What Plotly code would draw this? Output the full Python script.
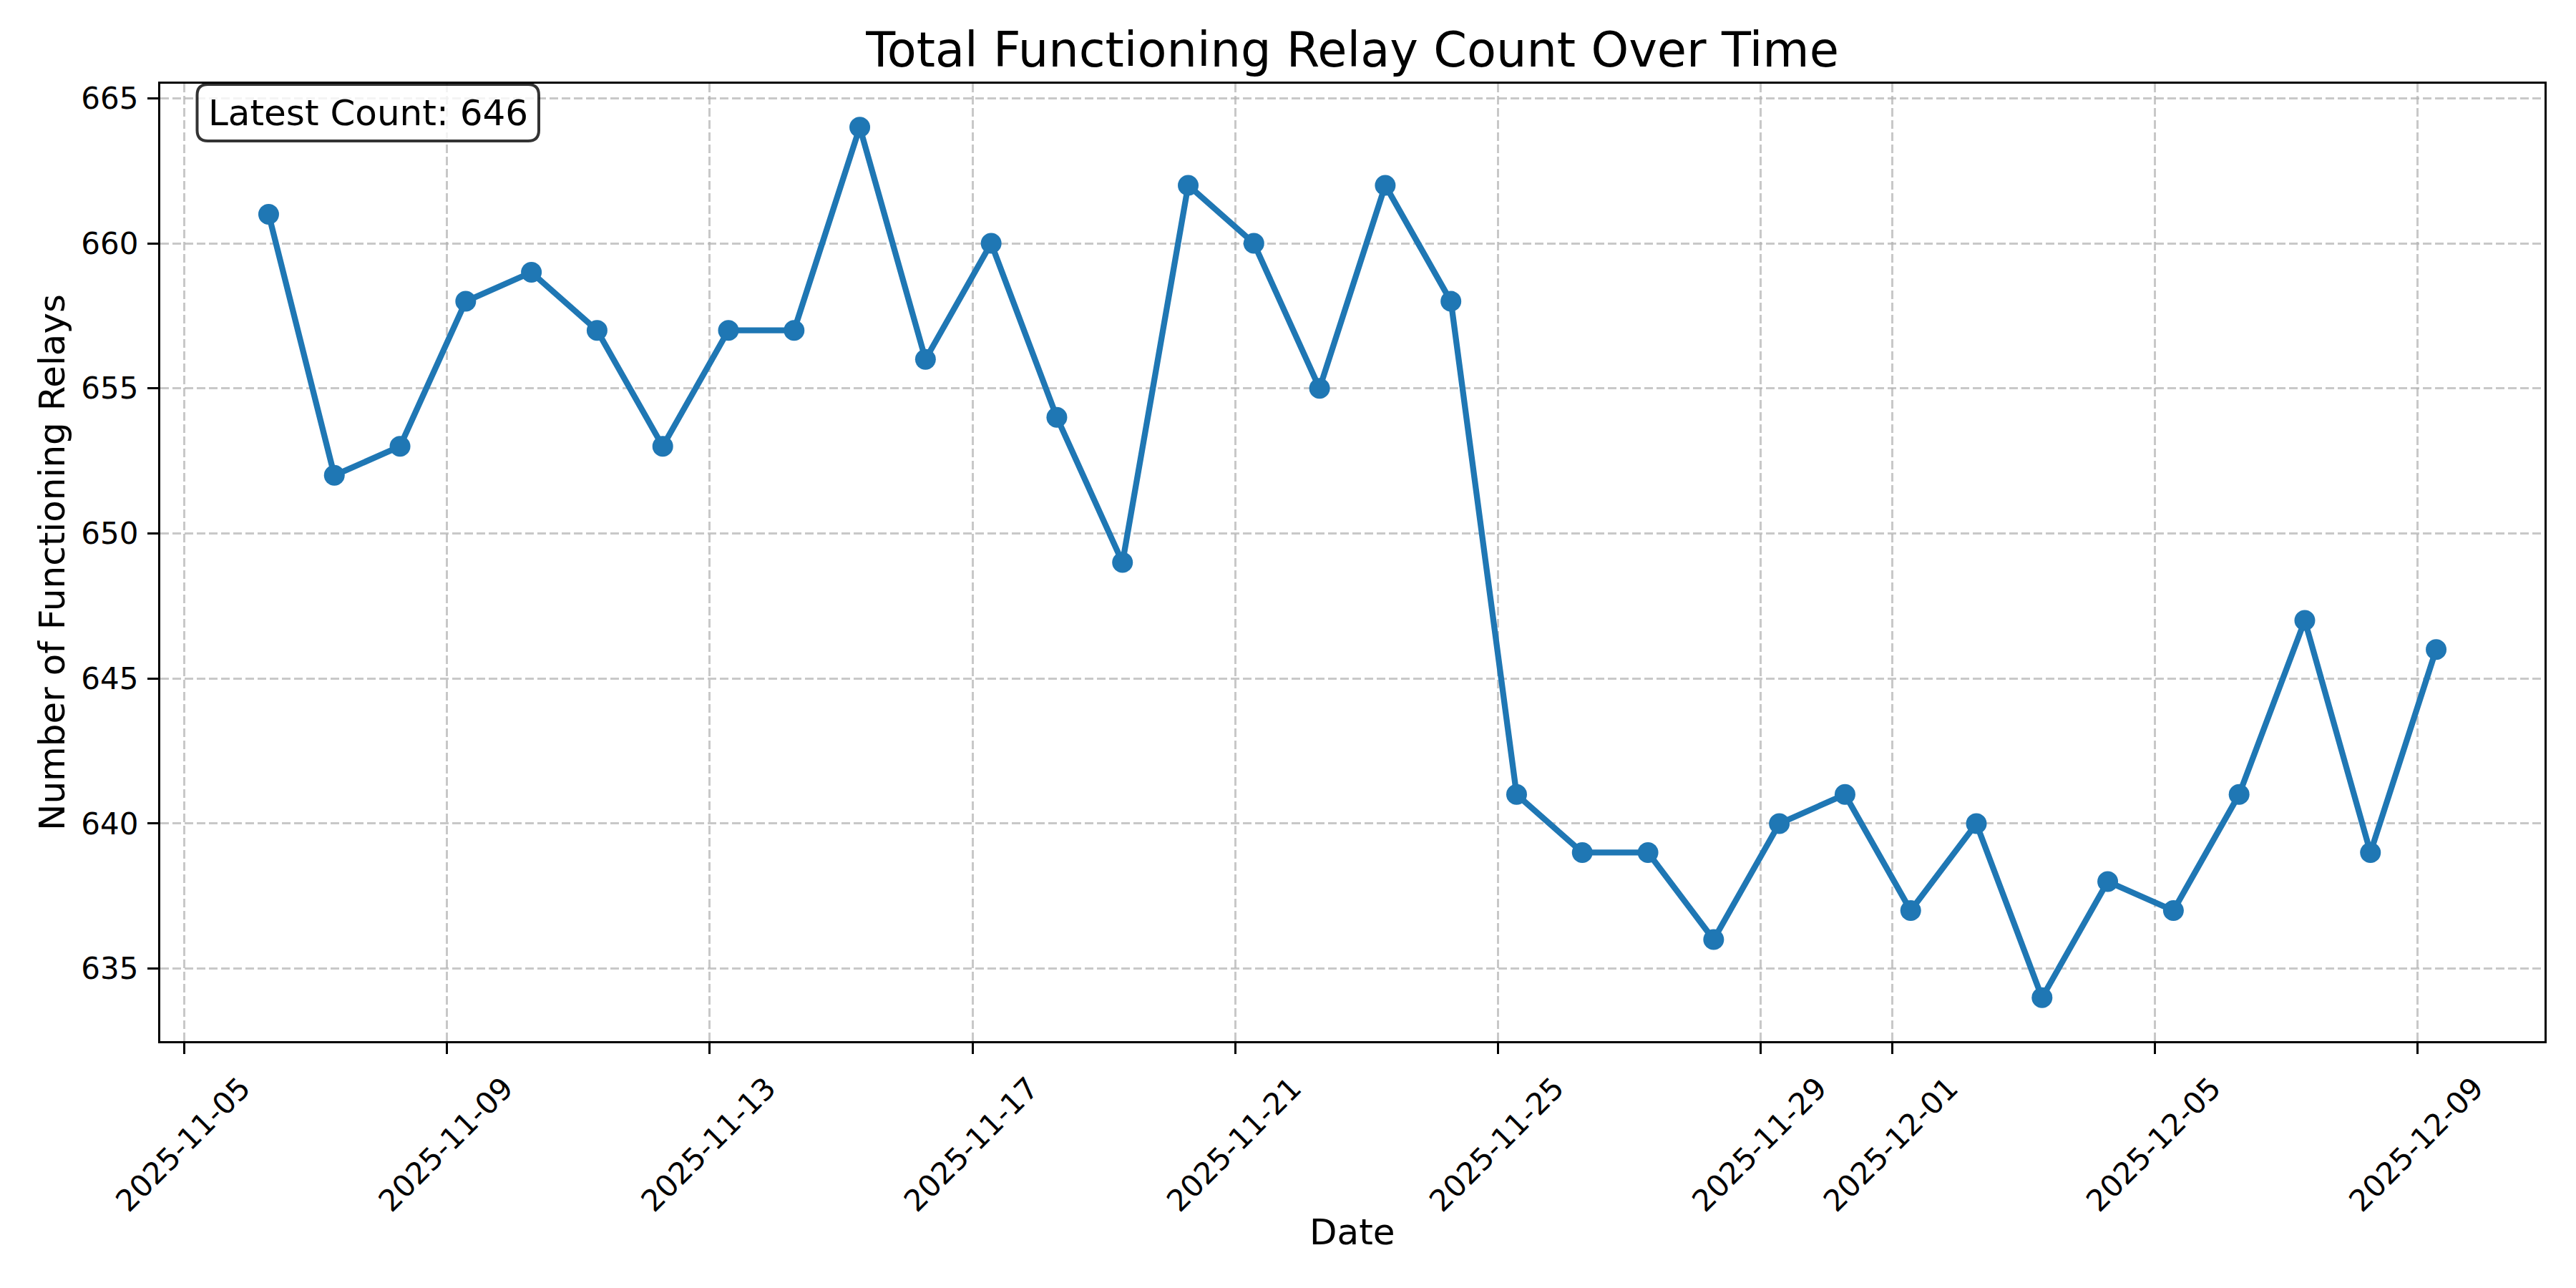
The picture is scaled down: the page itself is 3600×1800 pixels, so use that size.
import plotly.graph_objects as go
import pandas as pd

# ---- data ----
dates = [
    "2025-11-06", "2025-11-07", "2025-11-08", "2025-11-09", "2025-11-10",
    "2025-11-11", "2025-11-12", "2025-11-13", "2025-11-14", "2025-11-15",
    "2025-11-16", "2025-11-17", "2025-11-18", "2025-11-19", "2025-11-20",
    "2025-11-21", "2025-11-22", "2025-11-23", "2025-11-24", "2025-11-25",
    "2025-11-26", "2025-11-27", "2025-11-28", "2025-11-29", "2025-11-30",
    "2025-12-01", "2025-12-02", "2025-12-03", "2025-12-04", "2025-12-05",
    "2025-12-06", "2025-12-07", "2025-12-08", "2025-12-09",
]
sample_time = "06:50"
relay_counts = [
    661, 652, 653, 658, 659, 657, 653, 657, 657, 664,
    656, 660, 654, 649, 662, 660, 655, 662, 658, 641,
    639, 639, 636, 640, 641, 637, 640, 634, 638, 637,
    641, 647, 639, 646,
]
x_tick_dates = [
    "2025-11-05", "2025-11-09", "2025-11-13", "2025-11-17", "2025-11-21",
    "2025-11-25", "2025-11-29", "2025-12-01", "2025-12-05", "2025-12-09",
]
y_tick_values = [635, 640, 645, 650, 655, 660, 665]

title_text = "Total Functioning Relay Count Over Time"
x_label = "Date"
y_label = "Number of Functioning Relays"

# ---- derived ----
timestamps = pd.to_datetime([f"{d} {sample_time}" for d in dates])
span = timestamps.max() - timestamps.min()
x_range = [timestamps.min() - 0.05 * span, timestamps.max() + 0.05 * span]
y_span = max(relay_counts) - min(relay_counts)
y_range = [min(relay_counts) - 0.05 * y_span, max(relay_counts) + 0.05 * y_span]

W, H = 3600, 1800
ML, MR, MT, MB = 224, 44, 117, 345
PW, PH = W - ML - MR, H - MT - MB

FONT = "DejaVu Sans"
BLUE = "#1f77b4"

fig = go.Figure()
fig.add_trace(go.Scatter(
    x=timestamps, y=relay_counts, mode="lines+markers",
    line=dict(color=BLUE, width=8.3),
    marker=dict(color=BLUE, size=29),
    showlegend=False,
))

grid_dash = "12px,5px"
fig.update_xaxes(
    range=x_range, type="date",
    tickvals=pd.to_datetime(x_tick_dates), ticktext=x_tick_dates,
    tickangle=-45, ticklabelshift=80, ticklabelstandoff=6,
    tickfont=dict(family=FONT, size=42, color="black"),
    ticks="outside", ticklen=15, tickwidth=3.3, tickcolor="black",
    showline=True, linecolor="black", linewidth=3.3, mirror=True,
    showgrid=True, gridcolor="rgba(176,176,176,0.7)", gridwidth=3.3, griddash=grid_dash,
    zeroline=False,
)
fig.update_yaxes(
    range=y_range, tickvals=y_tick_values,
    tickfont=dict(family=FONT, size=42, color="black"),
    ticks="outside", ticklen=15, tickwidth=3.3, tickcolor="black",
    ticklabelstandoff=4,
    showline=True, linecolor="black", linewidth=3.3, mirror=True,
    showgrid=True, gridcolor="rgba(176,176,176,0.7)", gridwidth=3.3, griddash=grid_dash,
    zeroline=False,
)

# rounded annotation box (matplotlib round bbox)
bx0, bx1 = (275.5 - ML) / PW, (753 - ML) / PW
by1, by0 = (H - MB - 118) / PH, (H - MB - 197) / PH
r = 15
rx, ry = r / PW, r / PH
path = (
    f"M {bx0+rx},{by1} L {bx1-rx},{by1} Q {bx1},{by1} {bx1},{by1-ry} "
    f"L {bx1},{by0+ry} Q {bx1},{by0} {bx1-rx},{by0} "
    f"L {bx0+rx},{by0} Q {bx0},{by0} {bx0},{by0+ry} "
    f"L {bx0},{by1-ry} Q {bx0},{by1} {bx0+rx},{by1} Z"
)
fig.add_shape(type="path", path=path, xref="paper", yref="paper",
              fillcolor="rgba(255,255,255,0.8)",
              line=dict(color="rgba(0,0,0,0.8)", width=4), layer="above")

fig.add_annotation(
    text=f"Latest Count: {relay_counts[-1]}",
    xref="paper", yref="paper",
    x=(514.5 - ML) / PW, y=(H - MB - 157.5) / PH,
    xanchor="center", yanchor="middle", showarrow=False,
    font=dict(family=FONT, size=50, color="black"),
)

# axis titles
fig.add_annotation(
    text=x_label, xref="paper", yref="paper", x=0.5, y=(H - MB - 1722) / PH,
    xanchor="center", yanchor="middle", showarrow=False,
    font=dict(family=FONT, size=50, color="black"),
)
fig.add_annotation(
    text=y_label, xref="paper", yref="paper", x=(73 - ML) / PW, y=0.5,
    xanchor="center", yanchor="middle", textangle=-90, showarrow=False,
    font=dict(family=FONT, size=50, color="black"),
)

fig.update_layout(
    width=W, height=H,
    margin=dict(l=ML, r=MR, t=MT, b=MB, autoexpand=False),
    paper_bgcolor="white", plot_bgcolor="white",
    title=dict(text=title_text, x=(ML + PW / 2) / W, xanchor="center",
               y=1 - 70 / H, yanchor="middle", yref="container",
               font=dict(family=FONT, size=67, color="black")),
)

fig.write_html("out.html")
